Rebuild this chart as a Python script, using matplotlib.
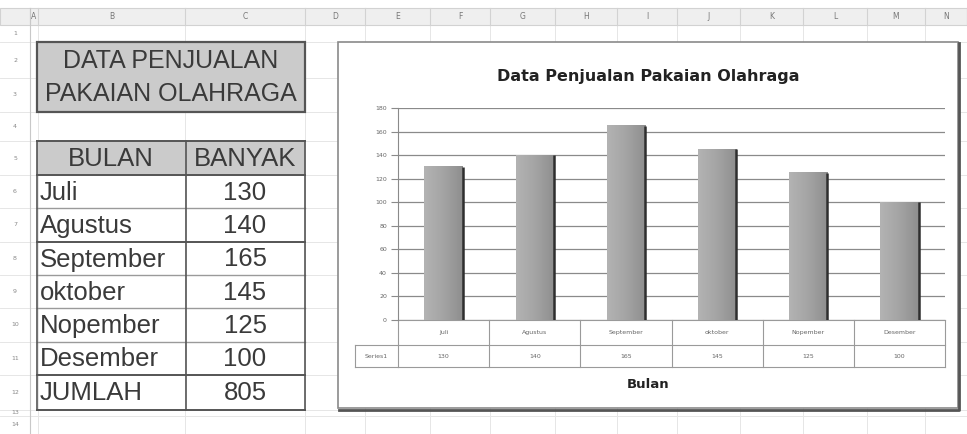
import numpy as np
import matplotlib
matplotlib.use("Agg")
import matplotlib.pyplot as plt
from matplotlib.patches import Rectangle
from matplotlib.colors import LinearSegmentedColormap
from matplotlib.transforms import blended_transform_factory

# data
bulan = ["Juli", "Agustus", "September", "oktober", "Nopember", "Desember"]
banyak = [130, 140, 165, 145, 125, 100]
series_name = "Series1"
judul_tabel = ["DATA PENJUALAN", "PAKAIAN OLAHRAGA"]
judul_chart = "Data Penjualan Pakaian Olahraga"
kolom = ["A", "B", "C", "D", "E", "F", "G", "H", "I", "J", "K", "L", "M", "N"]
y_ticks = [0, 20, 40, 60, 80, 100, 120, 140, 160, 180]

W, H = 967, 434
fig = plt.figure(figsize=(W / 100, H / 100), dpi=100)
fig.patch.set_facecolor("white")

# sheet layer in pixel coords
bg = fig.add_axes([0, 0, 1, 1])
bg.set_xlim(0, W)
bg.set_ylim(H, 0)
bg.axis("off")

col_edges = [30, 38, 185, 305, 365, 430, 490, 555, 617, 677, 740, 803, 867, 925, 967]
row_edges = [25, 42, 78, 112, 141, 175, 208, 242, 275, 308, 342, 375, 410, 416, 434]

# column header band
bg.add_patch(Rectangle((0, 8), W, 17, facecolor="#efefef", edgecolor="#d2d2d2", lw=0.8))
for i, name in enumerate(kolom):
    cx = (col_edges[i] + col_edges[i + 1]) / 2
    bg.text(cx, 16.5, name, ha="center", va="center", fontsize=5.5, color="#777777")
for x in col_edges:
    bg.plot([x, x], [8, 25], color="#d2d2d2", lw=0.8)
    bg.plot([x, x], [25, H], color="#e6e6e6", lw=0.7, zorder=0)
for y in row_edges:
    bg.plot([0, W], [y, y], color="#e6e6e6", lw=0.7, zorder=0)
bg.plot([30, 30], [8, H], color="#c8c8c8", lw=0.8)
for r in range(len(row_edges) - 1):
    cy = (row_edges[r] + row_edges[r + 1]) / 2
    bg.text(15, cy, str(r + 1), ha="center", va="center", fontsize=4.5, color="#888888")

# title box
tbl_font = "Liberation Sans"
fs = 18.5
bg.add_patch(Rectangle((37, 42), 268, 70, facecolor="#cbcbcb", edgecolor="#555555", lw=1.6))
bg.text(171, 61, judul_tabel[0], ha="center", va="center", fontsize=fs - 0.5, color="#3a3a3a", family=tbl_font)
bg.text(171, 94, judul_tabel[1], ha="center", va="center", fontsize=fs - 0.5, color="#3a3a3a", family=tbl_font)

# sales table
bg.add_patch(Rectangle((37, 141), 268, 34, facecolor="#cbcbcb", edgecolor="none"))
bg.text(111, 159, "BULAN", ha="center", va="center", fontsize=fs, color="#3a3a3a", family=tbl_font)
bg.text(245, 159, "BANYAK", ha="center", va="center", fontsize=fs, color="#3a3a3a", family=tbl_font)
rows = list(zip(bulan, banyak)) + [("JUMLAH", sum(banyak))]
tbl_edges = row_edges[4:13]
for i, (b, n) in enumerate(rows):
    cy = (tbl_edges[i + 1] + tbl_edges[i + 2]) / 2
    bg.text(40, cy + 1, b, ha="left", va="center", fontsize=fs, color="#3a3a3a", family=tbl_font)
    bg.text(245, cy + 1, str(n), ha="center", va="center", fontsize=fs, color="#3a3a3a", family=tbl_font)
for i, y in enumerate(tbl_edges):
    dark = i in (0, 1, 3, 7, 8)
    bg.plot([37, 305], [y, y], color="#555555" if dark else "#9a9a9a", lw=1.4 if dark else 1.0)
for x in (37, 186, 305):
    bg.plot([x, x], [141, 410], color="#555555", lw=1.2)

# chart frame
bg.add_patch(Rectangle((338, 42), 620, 366, facecolor="white", edgecolor="#8a8a8a", lw=1.2, zorder=1))
bg.plot([339, 959, 959], [409.5, 409.5, 43], color="#555555", lw=2, zorder=1)
bg.text(648, 76, judul_chart, ha="center", va="center", fontsize=11.5, fontweight="bold", color="#222222")
bg.text(648, 385, "Bulan", ha="center", va="center", fontsize=9.5, fontweight="bold", color="#222222")

# plot area
px0, px1, py0, py1 = 398, 945, 108, 320
ax = fig.add_axes([px0 / W, 1 - py1 / H, (px1 - px0) / W, (py1 - py0) / H])
ax.set_facecolor("none")
x = np.arange(len(bulan))
ax.set_yticks(y_ticks)
ax.set_yticklabels([str(v) for v in y_ticks], fontsize=4.5, color="#666666")
ax.tick_params(axis="y", length=5, width=0.8, color="#8a8a8a", pad=3)
ax.set_xticks([])
ax.grid(axis="y", color="#8a8a8a", lw=0.9)
ax.set_axisbelow(True)
for s in ("top", "right", "bottom"):
    ax.spines[s].set_visible(False)
ax.spines["left"].set_color("#8a8a8a")

bar_w = 0.42
bars = ax.bar(x, banyak, width=bar_w, color="#a6a6a6", zorder=2)
shade = LinearSegmentedColormap.from_list("shade", ["#b3b3b3", "#a4a4a4", "#8e8e8e"])
grad = np.linspace(0, 1, 64)[None, :]
for b in bars:
    x0, w, h = b.get_x(), b.get_width(), b.get_height()
    ax.imshow(grad, extent=(x0, x0 + w, 0, h), aspect="auto", cmap=shade, zorder=2.5)
    ax.plot([x0 + w, x0 + w], [0, h], color="#2e2e2e", lw=1.8, zorder=3, solid_capstyle="butt")
ax.set_xlim(-0.5, len(bulan) - 0.5)
ax.set_ylim(0, 180)

# data table under the plot
tr = blended_transform_factory(ax.transData, bg.transData)
line = dict(color="#9a9a9a", lw=0.8, transform=tr, clip_on=False)
ax.plot([-0.5, len(bulan) - 0.5], [320, 320], **line)
for k in range(len(bulan) + 1):
    ax.plot([k - 0.5, k - 0.5], [320, 367], **line)
for y in (345, 367):
    ax.plot([-0.5, len(bulan) - 0.5], [y, y], **line)
    bg.plot([355, 398], [y, y], color="#9a9a9a", lw=0.8)
bg.plot([355, 355], [345, 367], color="#9a9a9a", lw=0.8)
bg.text(376, 356, series_name, ha="center", va="center", fontsize=4.5, color="#666666")
for k in range(len(bulan)):
    ax.text(k, 332.5, bulan[k], ha="center", va="center", fontsize=4.5, color="#666666", transform=tr)
    ax.text(k, 356, str(banyak[k]), ha="center", va="center", fontsize=4.5, color="#666666", transform=tr)

fig.savefig("out.png", dpi=100)
